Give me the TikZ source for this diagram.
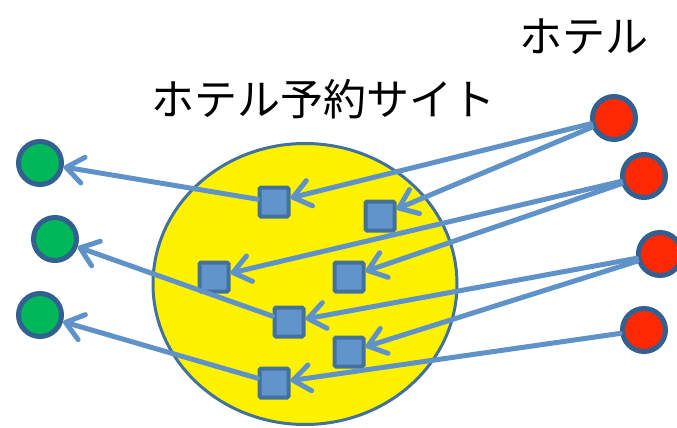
\documentclass[tikz,border=0pt]{standalone}
\usepackage{fontspec}
\newfontfamily\cjk{Noto Sans CJK JP}
\usetikzlibrary{arrows.meta,shapes.geometric}
\definecolor{lineblue}{RGB}{95,146,201}
\definecolor{sqfill}{RGB}{97,148,203}
\definecolor{sqedge}{RGB}{66,113,158}
\definecolor{circedge}{RGB}{50,96,145}
\definecolor{hgreen}{RGB}{0,184,90}
\definecolor{hred}{RGB}{255,40,0}
\tikzset{
  site/.style={ellipse, draw=sqedge, fill=yellow, line width=3pt, inner sep=0pt, minimum width=304pt, minimum height=281pt},
  sq/.style={rectangle, draw=sqedge, fill=sqfill, line width=4pt, rounded corners=1.5pt, minimum size=29pt, inner sep=0pt},
  guest/.style={circle, draw=circedge, fill=hgreen, line width=5pt, minimum size=43pt, inner sep=0pt},
  hotel/.style={circle, draw=circedge, fill=hred, line width=5pt, minimum size=43pt, inner sep=0pt},
  conn/.style={draw=lineblue, line width=5pt, line cap=round, -{Straight Barb[length=17pt,width=26pt,round]}},
  lbl/.style={font=\cjk\fontsize{43}{50}\selectfont, inner sep=0pt}
}
\begin{document}
\begin{tikzpicture}[x=1pt,y=-1pt]
\useasboundingbox (0,0) rectangle (677,428);
\node[site] (site) at (305,284) {};
\node[lbl] (title) at (323,99) {ホテル予約サイト};
\node[lbl] (hlabel) at (584,37) {ホテル};
\node[sq] (s1) at (274,202) {};
\node[sq] (s2) at (214,277) {};
\node[sq] (s3) at (289,322) {};
\node[sq] (s4) at (274,383) {};
\node[sq] (s5) at (380,216) {};
\node[sq] (s6) at (349,277) {};
\node[sq] (s7) at (349,352) {};
\node[guest] (g1) at (40,163) {};
\node[guest] (g2) at (55,239) {};
\node[guest] (g3) at (40,315) {};
\node[hotel] (h1) at (614,118) {};
\node[hotel] (h2) at (644,176) {};
\node[hotel] (h3) at (660,254) {};
\node[hotel] (h4) at (644,330) {};
\draw[conn] (h1) -- (s1);
\draw[conn] (h1) -- (s5);
\draw[conn] (h2) -- (s2);
\draw[conn] (h2) -- (s6);
\draw[conn] (h3) -- (s3);
\draw[conn] (h3) -- (s7);
\draw[conn] (h4) -- (s4);
\draw[conn] (s1) -- (g1);
\draw[conn] (s3) -- (g2);
\draw[conn] (s4) -- (g3);
\end{tikzpicture}
\end{document}
